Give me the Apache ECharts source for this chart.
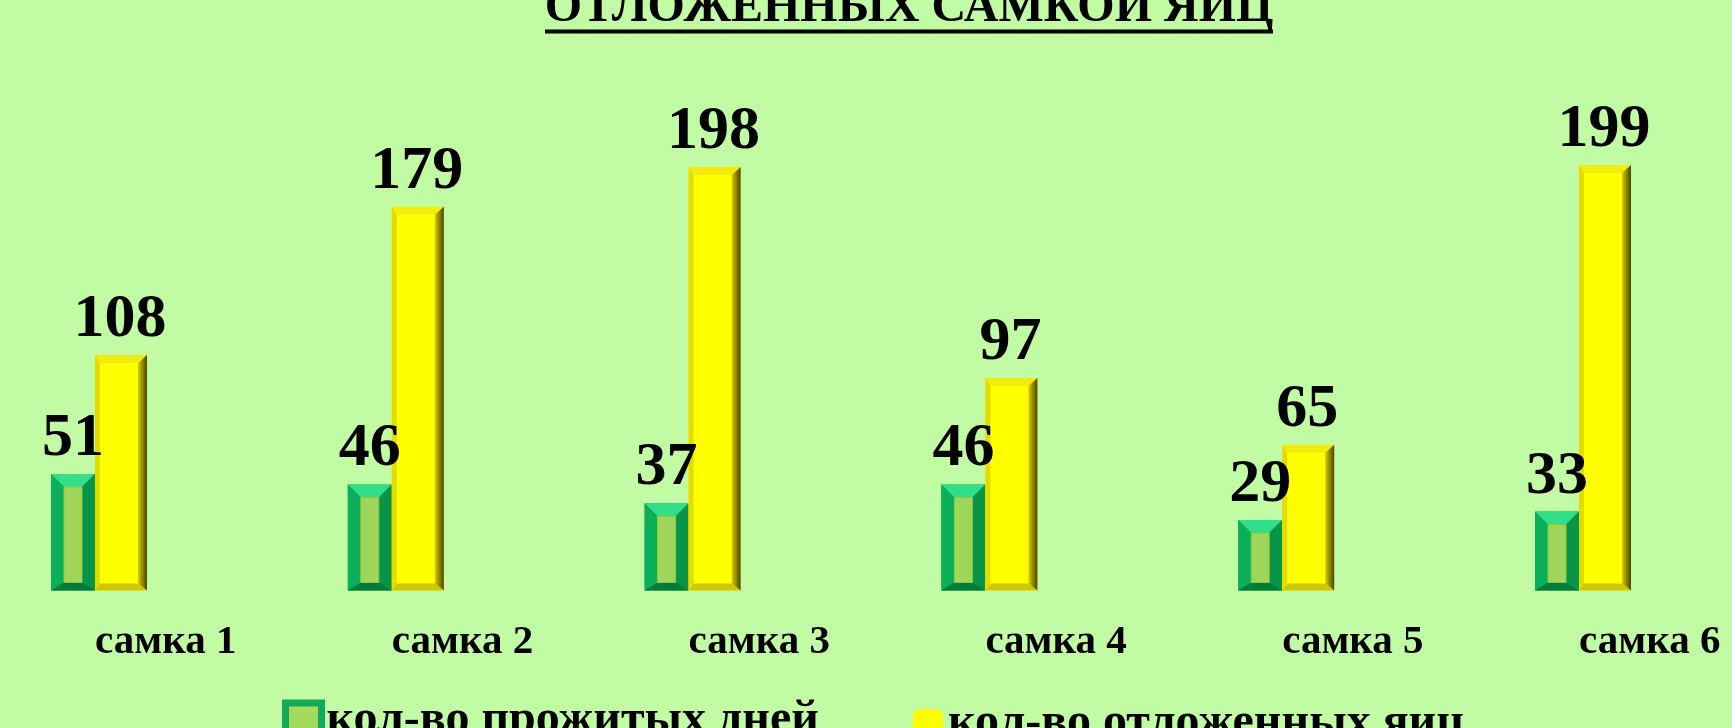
<!DOCTYPE html>
<html>
<head>
<meta charset="utf-8">
<script src="https://cdn.jsdelivr.net/npm/echarts@6/dist/echarts.min.js"></script>
<style>
html,body{margin:0;padding:0;background:#c1fba3;}
#chart{width:1732px;height:728px;}
</style>
</head>
<body>
<div id="chart"></div>
<script>
// ---- data ----
var categories = ['самка 1', 'самка 2', 'самка 3', 'самка 4', 'самка 5', 'самка 6'];
var daysLived = [51, 46, 37, 46, 29, 33];
var eggsLaid = [108, 179, 198, 97, 65, 199];
var seriesNames = ['кол-во прожитых дней', 'кол-во отложенных яиц'];
var titleText = 'ОТЛОЖЕННЫХ САМКОЙ ЯИЦ';

var FONT = '"Liberation Serif", "Times New Roman", serif';
var DEPTH = 10;

function labelText(x, y, v) {
  return {
    type: 'text',
    style: {
      text: String(v), x: x, y: y,
      textAlign: 'center', textVerticalAlign: 'bottom',
      font: 'bold 62px ' + FONT, fill: '#000'
    },
    z2: 20
  };
}

function greenBar(params, api) {
  var p = api.coord([api.value(0), api.value(1)]);
  var z = api.coord([api.value(0), 0]);
  var x1 = p[0], x0 = x1 - 44, yt = p[1], yb = z[1] + DEPTH;
  var s = 13, sb = 8;
  return {
    type: 'group',
    children: [
      {type: 'rect', shape: {x: x0, y: yt, width: x1 - x0, height: yb - yt}, style: {fill: '#0ea654'}},
      {type: 'polygon', shape: {points: [[x0, yt], [x1, yt], [x1 - s, yt + s], [x0 + s, yt + s]]}, style: {fill: '#33de8b'}},
      {type: 'polygon', shape: {points: [[x0, yt], [x0 + s, yt + s], [x0 + s, yb - sb], [x0, yb]]}, style: {fill: '#0caf59'}},
      {type: 'polygon', shape: {points: [[x1, yt], [x1, yb], [x1 - s, yb - sb], [x1 - s, yt + s]]}, style: {fill: '#099548'}},
      {type: 'polygon', shape: {points: [[x0, yb], [x0 + s, yb - sb], [x1 - s, yb - sb], [x1, yb]]}, style: {fill: '#037c3a'}},
      {type: 'rect', shape: {x: x0 + s, y: yt + s, width: x1 - x0 - 2 * s, height: Math.max(0, yb - sb - yt - s)}, style: {fill: '#9fd65a', stroke: '#8cc84c', lineWidth: 1}},
      labelText((x0 + x1) / 2, yt - 4, api.value(1))
    ]
  };
}

function yellowBar(params, api) {
  var p = api.coord([api.value(0), api.value(1)]);
  var z = api.coord([api.value(0), 0]);
  var x0 = p[0], x1 = x0 + 52, yt = p[1], yb = z[1] + DEPTH;
  var st = 8, sl = 5, sr = 9, sb = 7;
  return {
    type: 'group',
    children: [
      {type: 'rect', shape: {x: x0, y: yt, width: x1 - x0, height: yb - yt}, style: {fill: '#ffff00'}},
      {type: 'polygon', shape: {points: [[x0, yt], [x1, yt], [x1 - sr, yt + st], [x0 + sl, yt + st]]}, style: {fill: '#f1ec0e'}},
      {type: 'polygon', shape: {points: [[x0, yt], [x0 + sl, yt + st], [x0 + sl, yb - sb], [x0, yb]]}, style: {fill: '#e2dc00'}},
      {type: 'polygon', shape: {points: [[x1, yt], [x1, yb], [x1 - sr, yb - sb], [x1 - sr, yt + st]]},
        style: {fill: new echarts.graphic.LinearGradient(0, 0, 1, 0, [{offset: 0, color: '#d6ce00'}, {offset: 1, color: '#4a4300'}])}},
      {type: 'polygon', shape: {points: [[x0, yb], [x0 + sl, yb - sb], [x1 - sr, yb - sb], [x1, yb]]}, style: {fill: '#cfc700'}},
      labelText((x0 + x1) / 2 - 1, yt - 4, api.value(1))
    ]
  };
}

var chart = echarts.init(document.getElementById('chart'), null, {renderer: 'canvas'});
chart.setOption({
  backgroundColor: '#c1fba3',
  animation: false,
  title: {
    text: titleText,
    left: 909,
    top: -15,
    padding: 0,
    textAlign: 'center',
    textStyle: {fontFamily: FONT, fontWeight: 'bold', fontSize: 48, lineHeight: 48, color: '#000'}
  },
  graphic: [
    {type: 'rect', shape: {x: 545, y: 29.5, width: 728, height: 4}, style: {fill: '#000'}}
  ],
  legend: [
    {
      data: [{name: seriesNames[0], icon: 'rect', itemStyle: {color: '#a3d95c', borderColor: '#12aa5a', borderWidth: 7}}],
      left: 282, top: 697, itemWidth: 36, itemHeight: 36, padding: 0, selectedMode: false,
      textStyle: {fontFamily: FONT, fontWeight: 'bold', fontSize: 48, color: '#000'}
    },
    {
      data: [{name: seriesNames[1], icon: 'roundRect', itemStyle: {color: '#ffff00', borderWidth: 0}}],
      left: 913, top: 700, itemWidth: 30, itemHeight: 30, padding: 0, selectedMode: false,
      textStyle: {fontFamily: FONT, fontWeight: 'bold', fontSize: 48, color: '#000'}
    }
  ],
  grid: {left: 95, right: 153, top: 58.5, bottom: 147.5, containLabel: false},
  xAxis: {
    type: 'category',
    data: categories,
    boundaryGap: false,
    axisLine: {show: false},
    axisTick: {show: false},
    splitLine: {show: false},
    axisLabel: {
      interval: 0, align: 'left', margin: 41,
      fontFamily: FONT, fontWeight: 'bold', fontSize: 41, lineHeight: 41, color: '#000'
    }
  },
  yAxis: {type: 'value', min: 0, max: 250, show: false, splitLine: {show: false}},
  series: [
    {
      name: seriesNames[0], type: 'custom', clip: false,
      itemStyle: {color: '#12aa5a'},
      encode: {x: 0, y: 1},
      data: daysLived.map(function (v, i) { return [i, v]; }),
      renderItem: greenBar
    },
    {
      name: seriesNames[1], type: 'custom', clip: false,
      itemStyle: {color: '#ffff00'},
      encode: {x: 0, y: 1},
      data: eggsLaid.map(function (v, i) { return [i, v]; }),
      renderItem: yellowBar
    }
  ]
});
</script>
</body>
</html>
